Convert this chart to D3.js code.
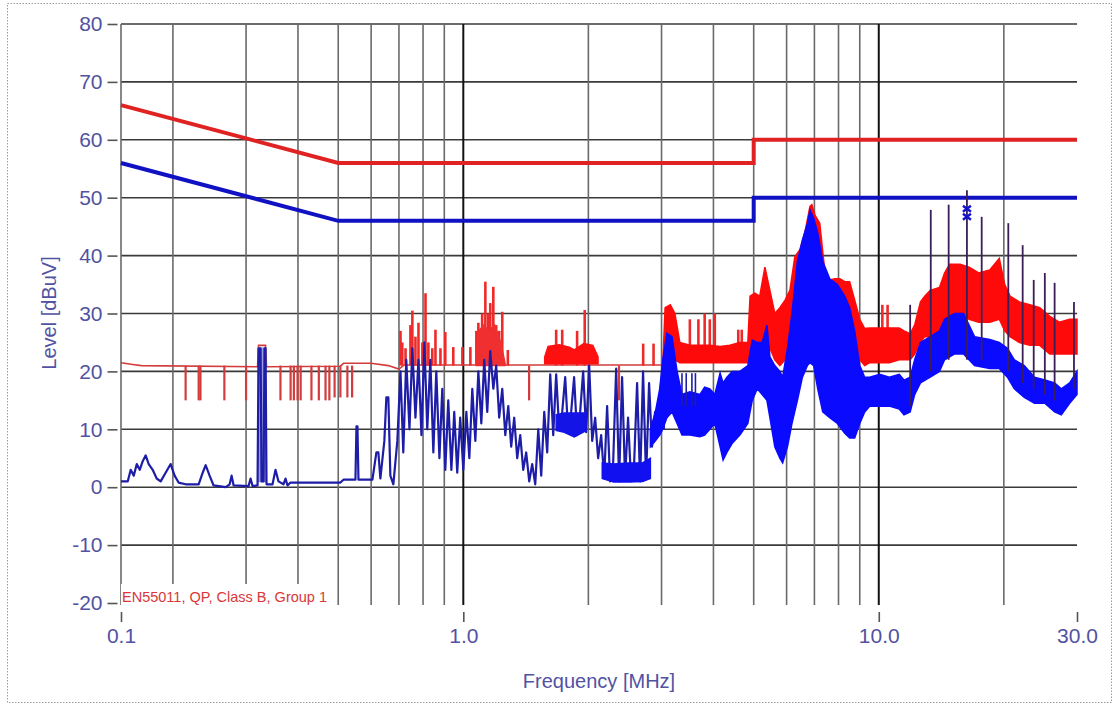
<!DOCTYPE html>
<html>
<head>
<meta charset="utf-8">
<script src="https://cdn.jsdelivr.net/npm/d3@7"></script>
<style>
  body { margin: 0; background: #fff; }
  svg { display: block; font-family: "Liberation Sans", Arial, sans-serif; }
</style>
</head>
<body>
<div id="chart"></div>
<script>
// ---- axis ticks ----
var xTickValues = [0.15, 1, 10, 30];
var xTickLabels = ["0.1", "1.0", "10.0", "30.0"];
var xGridMinor = [0.2, 0.3, 0.4, 0.5, 0.6, 0.7, 0.8, 0.9, 2, 3, 4, 5, 6, 7, 8, 9, 20];
var xGridMajor = [1, 10];
var yTicks = [-20, -10, 0, 10, 20, 30, 40, 50, 60, 70, 80];
var yGrid = [-10, 0, 10, 20, 30, 40, 50, 60, 70, 80];

// ---- EN55011 class B limits [MHz, dBuV] ----
var limitQP = [[0.15, 66], [0.5, 56], [5, 56], [5, 60], [30, 60]];
var limitAV = [[0.15, 56], [0.5, 46], [5, 46], [5, 50], [30, 50]];

// ---- QP (red) trace ----
var qpLine = [[0.150, 21.5], [0.160, 21.2], [0.168, 21.0], [0.3197, 20.8], [0.3215, 24.5], [0.3342, 24.5],
  [0.336, 20.8], [0.506, 20.9], [0.515, 21.4], [0.60, 21.4], [0.66, 21.0], [0.70, 20.4], [0.72, 21.1], [3.02, 21.1]];
// dips and peaks drawn as short verticals [MHz, low, high]
var qpDips = [[0.2146, 15, 21], [0.2307, 15, 21], [0.233, 15, 21], [0.266, 15, 21], [0.300, 15, 21],
  [0.363, 15, 21], [0.384, 15, 21], [0.391, 15, 21], [0.399, 15, 21], [0.406, 15, 21], [0.431, 15, 21],
  [0.449, 15, 21], [0.466, 15, 21], [0.476, 15, 21], [0.49, 15.5, 21], [0.506, 15.5, 21], [0.526, 15.5, 21],
  [0.54, 15.5, 21], [1.44, 15, 21], [2.37, 15, 21]];
var qpSpikes = [[0.706, 21, 27], [0.713, 21, 25], [0.726, 21, 24], [0.746, 21, 28], [0.754, 21, 30.5],
  [0.767, 21, 26], [0.780, 21, 28.4], [0.797, 21, 25], [0.811, 21, 33.5], [0.824, 21, 25], [0.842, 21, 24],
  [0.857, 21, 27.2], [0.881, 21, 24], [0.905, 21, 26.8], [0.946, 21, 24.2], [0.995, 21, 24.2], [1.04, 21, 24.2],
  [1.075, 21, 27], [1.087, 21, 28.4], [1.11, 21, 30], [1.13, 21, 35.5], [1.148, 21, 30], [1.161, 21, 31.8],
  [1.181, 21, 34.6], [1.20, 21, 28], [1.22, 21, 27], [1.241, 21, 30.3], [1.28, 21, 23.7],
  [1.673, 21, 27.2], [1.73, 21, 27.2], [1.879, 21, 27], [1.96, 21, 30.6], [2.71, 21, 24.8], [2.87, 21, 24.8],
  [3.51, 22, 29], [3.68, 22, 29], [3.81, 22, 30], [3.92, 22, 29], [4.03, 22, 30], [4.59, 22, 27.2], [4.68, 22, 27.2],
  [10.2, 22, 31.5], [10.5, 22, 31.5]];
var qpBandA = [[1.075, 21, 23], [1.09, 21, 27], [1.12, 21, 28], [1.15, 21, 27], [1.19, 21, 28], [1.23, 21, 25], [1.26, 21, 21.5]];
var qpBandB = [[1.57, 21.3, 22.5], [1.6, 21.3, 24.3], [1.7, 21.3, 24.6], [1.8, 21.3, 24.2], [1.85, 21.3, 23.7],
  [1.95, 21.3, 24.8], [2.05, 21.3, 24.5], [2.11, 21.3, 22.5]];
var qpBandC = [[3.02, 21, 21], [3.06, 21.5, 31], [3.15, 22, 31.5], [3.23, 22, 30], [3.32, 21.5, 25], [3.51, 21.5, 24.5],
  [3.71, 21.5, 24.5], [3.92, 21.5, 24.5], [4.15, 21.5, 24.3], [4.38, 21.5, 24.5], [4.63, 21.5, 25], [4.84, 21.5, 25],
  [4.90, 22, 33], [5.03, 22, 33.5], [5.17, 22, 33], [5.32, 24, 38], [5.47, 24, 34], [5.62, 22, 30], [5.78, 21, 31],
  [5.95, 22, 32.3], [6.11, 22, 34], [6.28, 24, 39.8], [6.46, 25, 41], [6.64, 28, 44], [6.83, 30, 48.5], [6.90, 30, 48.8],
  [7.02, 30, 47], [7.21, 28, 45.6], [7.41, 26, 37.5], [7.62, 25, 35.8], [7.84, 25, 36], [8.06, 25, 36],
  [8.28, 24, 35.5], [8.51, 23, 35.5], [8.75, 23, 32.3], [9.00, 22, 29], [9.25, 21, 27.4], [9.51, 21.5, 27.5],
  [10.05, 21.5, 27.5], [10.6, 21.5, 27.5], [11.2, 22, 27.5], [11.5, 22, 27], [11.9, 22, 26.5], [12.2, 23, 28],
  [12.6, 25, 32], [12.9, 26, 33], [13.3, 26, 34], [14.0, 26, 34.5], [14.4, 28, 37], [14.8, 29, 38.5],
  [15.7, 30, 38.5], [16.5, 29, 38], [17.4, 28.5, 37], [18.5, 28.5, 37.5], [19.5, 29, 39.5], [20.1, 27, 35],
  [20.7, 26, 33], [21.8, 25, 32], [23.1, 24.5, 31.5], [24.4, 24.5, 31], [25.8, 23, 29.5], [27.2, 23, 28.5],
  [28.8, 23, 29], [30, 23, 29]];

// ---- AV (blue) trace ----
var avLine = [[0.150, 1.0], [0.1557, 1.0], [0.1583, 3.0], [0.1610, 2.0], [0.1637, 4.0], [0.1664, 3.0],
  [0.1692, 4.5], [0.1720, 5.5], [0.1749, 4.0], [0.1788, 3.0], [0.1828, 1.5], [0.1869, 1.0], [0.1921, 2.5],
  [0.1975, 4.0], [0.2019, 2.0], [0.2064, 0.8], [0.2146, 0.5], [0.2307, 0.5], [0.2359, 2.5], [0.2398, 3.8],
  [0.2451, 2.0], [0.2506, 0.3], [0.2679, 0.0], [0.2739, 0.5], [0.2769, 2.0], [0.2800, 0.3], [0.3042, 0.2],
  [0.3076, 1.5], [0.3110, 0.2], [0.3197, 0.3], [0.3215, 24], [0.3251, 24], [0.3269, 1], [0.3305, 1],
  [0.3323, 24], [0.3342, 24], [0.3360, 0.5], [0.3474, 0.5], [0.3532, 3], [0.3591, 1], [0.3692, 0.5],
  [0.3733, 1.5], [0.3775, 0.3], [0.3838, 0.8], [0.5061, 0.8], [0.5146, 1.3], [0.5500, 1.3], [0.5531, 10.5],
  [0.5562, 10.5], [0.5593, 1.3], [0.6043, 1.3], [0.6177, 6], [0.6246, 6], [0.6315, 1.5], [0.6456, 8],
  [0.6528, 15.5], [0.6601, 15.5], [0.6674, 2], [0.6786, 0.5], [0.6938, 8],
  [0.706, 20], [0.717, 6], [0.729, 22], [0.742, 10], [0.754, 24], [0.767, 12], [0.780, 22], [0.793, 9],
  [0.806, 25], [0.819, 10], [0.833, 22], [0.847, 6], [0.861, 20], [0.876, 5], [0.890, 17], [0.905, 3],
  [0.920, 15], [0.936, 3], [0.951, 13], [0.967, 2.5], [0.983, 12], [1.000, 3], [1.017, 13], [1.034, 5],
  [1.051, 17], [1.069, 8], [1.087, 20], [1.105, 11], [1.123, 22], [1.142, 13], [1.161, 23.5], [1.181, 17],
  [1.200, 21], [1.220, 12], [1.241, 17], [1.262, 9], [1.283, 14], [1.304, 7], [1.326, 12], [1.348, 5],
  [1.371, 9], [1.394, 3], [1.417, 6], [1.441, 1], [1.465, 4], [1.490, 0.5], [1.515, 10], [1.540, 2],
  [1.566, 13], [1.592, 6], [1.619, 19.5], [1.646, 9], [1.673, 19.5], [1.701, 10], [1.730, 13], [1.759, 19],
  [1.788, 9.5], [1.818, 13], [1.848, 19], [1.879, 9], [1.911, 13], [1.943, 20], [1.976, 9.5], [2.009, 21],
  [2.043, 8], [2.077, 12], [2.111, 5], [2.147, 9], [2.183, 1.5], [2.219, 14], [2.256, 1], [2.294, 4],
  [2.333, 20.5], [2.371, 1], [2.411, 19], [2.451, 1.5], [2.492, 12], [2.534, 1], [2.577, 4], [2.620, 18],
  [2.664, 1], [2.708, 20], [2.754, 1.5], [2.800, 18], [2.846, 7], [2.894, 13], [2.943, 9], [2.992, 18], [3.042, 10]];
var avPulse = [[0.3215, 1, 24], [0.3342, 1, 24]];
var avBandA = [[1.673, 9.8, 12.5], [1.75, 9.5, 12.8], [1.85, 8.7, 12.8], [1.976, 9.8, 12.8]];
var avBandB = [[2.16, 1.5, 4.2], [2.3, 0.9, 4.0], [2.5, 0.9, 4.2], [2.7, 1.0, 4.2], [2.82, 1.5, 5]];
var avBandC = [[2.82, 7, 10], [2.90, 8, 13], [2.97, 9, 17], [3.02, 10, 22], [3.09, 12, 26.6], [3.18, 13, 26],
  [3.27, 11, 20], [3.36, 9, 16], [3.51, 9, 16.5], [3.71, 8.7, 16], [3.81, 9, 17.3], [3.92, 10, 17], [4.03, 11, 16],
  [4.15, 7, 19.7], [4.22, 4.7, 18], [4.31, 6, 19], [4.44, 7.6, 20], [4.63, 9, 20], [4.84, 11, 21], [4.96, 15, 25.4],
  [5.10, 17, 25], [5.24, 16, 25], [5.38, 15, 28], [5.47, 12, 22.5], [5.62, 7, 21], [5.78, 5, 20], [5.87, 4.2, 19],
  [6.03, 7, 24], [6.18, 11, 30], [6.37, 15, 39], [6.55, 19, 42.7], [6.73, 21, 45.5], [6.83, 21.5, 47.9],
  [6.97, 21, 46.5], [7.13, 17, 43.9], [7.33, 13, 39], [7.62, 12, 36], [7.95, 11, 35], [8.28, 9.3, 33],
  [8.51, 8.5, 31], [8.75, 8.5, 27], [9.00, 11, 21], [9.25, 13, 19], [9.51, 14, 19], [10.05, 14, 19.5],
  [10.6, 14, 19], [11.2, 13.5, 19.5], [11.5, 12.5, 18.5], [11.9, 13, 19], [12.2, 16, 22], [12.6, 18, 25],
  [13.3, 19, 26], [14.0, 20, 27], [14.4, 22, 29], [15.2, 23, 30], [16.0, 23, 30], [17.0, 21, 26],
  [18.5, 20.5, 25.5], [19.5, 20.5, 25], [20.4, 19, 24], [21.2, 17, 22], [22.4, 15.5, 21], [23.7, 14.5, 19],
  [25.1, 14.5, 18.5], [26.5, 13, 18], [27.5, 12.5, 17], [28.8, 14.5, 18], [30, 16, 20]];
var avSpikes = [[3.36, 14, 19.7], [3.44, 14, 19.7], [3.55, 14, 19.7], [3.62, 14, 19.7]];
// dark spikes above the noise between 10 and 30 MHz
var peakSpikes = [[11.9, 14, 31.5], [13.34, 20, 47.9], [14.73, 22, 48.8], [16.3, 22, 51.3], [17.69, 22, 46.7],
  [20.5, 20, 45.6], [22.2, 18, 41.8], [23.6, 17, 35.8], [25.1, 16, 37], [26.5, 15, 35.3], [29.5, 17, 32]];
var markers = [[16.3, 47.4]];

// ---- layout ----
var width = 1115, height = 706;
var labelColor = "#5252a2";

var svg = d3.select("#chart").append("svg")
  .attr("width", width)
  .attr("height", height);

// dotted frame round the picture
svg.append("rect")
  .attr("x", 7.5).attr("y", 3.5)
  .attr("width", 1104).attr("height", 699)
  .attr("fill", "none")
  .attr("stroke", "#9a9a9a")
  .attr("stroke-dasharray", "1.5,1.5");

var x = d3.scaleLog().domain([0.15, 30]).range([121, 1077]);
var y = d3.scaleLinear().domain([-20, 80]).range([603, 24]);

// grid
svg.selectAll(".hgrid").data(yGrid).enter().append("line")
  .attr("class", "hgrid")
  .attr("x1", x(0.15)).attr("x2", x(30))
  .attr("y1", function(d){ return y(d); }).attr("y2", function(d){ return y(d); })
  .attr("stroke", "#3a3a3a").attr("stroke-width", 1.6);

svg.selectAll(".vgrid").data(xGridMinor).enter().append("line")
  .attr("class", "vgrid")
  .attr("x1", function(d){ return x(d); }).attr("x2", function(d){ return x(d); })
  .attr("y1", y(80)).attr("y2", y(-20) + 2)
  .attr("stroke", "#6a6a6a").attr("stroke-width", 1.6);

svg.selectAll(".vmajor").data(xGridMajor).enter().append("line")
  .attr("class", "vmajor")
  .attr("x1", function(d){ return x(d); }).attr("x2", function(d){ return x(d); })
  .attr("y1", y(80)).attr("y2", y(-20) + 2)
  .attr("stroke", "#111").attr("stroke-width", 2);

// left axis line
svg.append("line")
  .attr("x1", x(0.15)).attr("x2", x(0.15))
  .attr("y1", y(80)).attr("y2", y(-20) + 2)
  .attr("stroke", "#6a6a6a").attr("stroke-width", 1.6);

// axes (plain hyphen for negatives, like the original)
var yAxis = d3.axisLeft(y).tickValues(yTicks).tickSize(10).tickPadding(5)
  .tickFormat(function(d){ return String(d); });
var gy = svg.append("g").attr("transform", "translate(117.5,0)").call(yAxis);
var xAxis = d3.axisBottom(x).tickValues(xTickValues)
  .tickFormat(function(d, i){ return xTickLabels[i]; })
  .tickSize(10).tickPadding(6);
var gx = svg.append("g").attr("transform", "translate(0,612)").call(xAxis);

[gx, gy].forEach(function(g){
  g.select(".domain").remove();
  g.selectAll(".tick line").attr("stroke", "#555").attr("stroke-width", 1.6);
  g.selectAll(".tick text")
    .attr("fill", labelColor)
    .style("font-size", "21px")
    .style("font-family", "'Liberation Sans', Arial, sans-serif");
});

// axis titles
svg.append("text")
  .attr("transform", "translate(56,313) rotate(-90)")
  .attr("text-anchor", "middle")
  .attr("fill", labelColor)
  .style("font-size", "20px")
  .text("Level [dBuV]");

svg.append("text")
  .attr("x", 599).attr("y", 688)
  .attr("text-anchor", "middle")
  .attr("fill", labelColor)
  .style("font-size", "20px")
  .text("Frequency [MHz]");

// limit lines
var line = d3.line()
  .x(function(d){ return x(d[0]); })
  .y(function(d){ return y(d[1]); });

var area = d3.area()
  .x(function(d){ return x(d[0]); })
  .y0(function(d){ return y(d[1]); })
  .y1(function(d){ return y(d[2]); });

svg.append("path").datum(limitQP)
  .attr("d", line).attr("fill", "none")
  .attr("stroke", "#e02222").attr("stroke-width", 4);
svg.append("path").datum(limitAV)
  .attr("d", line).attr("fill", "none")
  .attr("stroke", "#1111c4").attr("stroke-width", 4);

function spikes(data, color, w){
  svg.append("g").selectAll("line").data(data).enter().append("line")
    .attr("x1", function(d){ return x(d[0]); }).attr("x2", function(d){ return x(d[0]); })
    .attr("y1", function(d){ return y(d[1]); }).attr("y2", function(d){ return y(d[2]); })
    .attr("stroke", color).attr("stroke-width", w);
}

function band(data, color){
  svg.append("path").datum(data)
    .attr("d", area)
    .attr("fill", color)
    .attr("stroke", color).attr("stroke-width", 1.5);
}

// QP trace
svg.append("path").datum(qpLine)
  .attr("d", line).attr("fill", "none")
  .attr("stroke", "#d23c3c").attr("stroke-width", 1.6);
spikes(qpDips, "#d23c3c", 2.2);
spikes(qpSpikes, "#ee2a2a", 2.6);
band(qpBandA, "#f03030");
band(qpBandB, "#ff1010");
band(qpBandC, "#ff0a0a");

// AV trace
band(avPulse, "#9c9cdc");
svg.append("path").datum(avLine)
  .attr("d", line).attr("fill", "none")
  .attr("stroke", "#1d1da8").attr("stroke-width", 2.2)
  .attr("stroke-linejoin", "round");
band(avBandA, "#1414e6");
band(avBandB, "#1010f0");
band(avBandC, "#0a0aff");
spikes(avSpikes, "#1d1da8", 1.6);
spikes(peakSpikes, "#3a1e58", 1.8);

// marker
svg.selectAll(".marker").data(markers).enter().append("path")
  .attr("class", "marker")
  .attr("transform", function(d){ return "translate(" + x(d[0]) + "," + y(d[1]) + ")"; })
  .attr("d", "M-4,-7L4,-1M4,-7L-4,-1M-4,1L4,7M4,1L-4,7")
  .attr("stroke", "#1414d0").attr("stroke-width", 2.5).attr("fill", "none");

// standard label with its white box
svg.append("rect")
  .attr("x", 121).attr("y", 584)
  .attr("width", 216).attr("height", 21)
  .attr("fill", "#fff");
svg.append("text")
  .attr("x", 122).attr("y", 602)
  .attr("fill", "#d83838")
  .style("font-size", "14.5px")
  .text("EN55011, QP, Class B, Group 1");
</script>
</body>
</html>
